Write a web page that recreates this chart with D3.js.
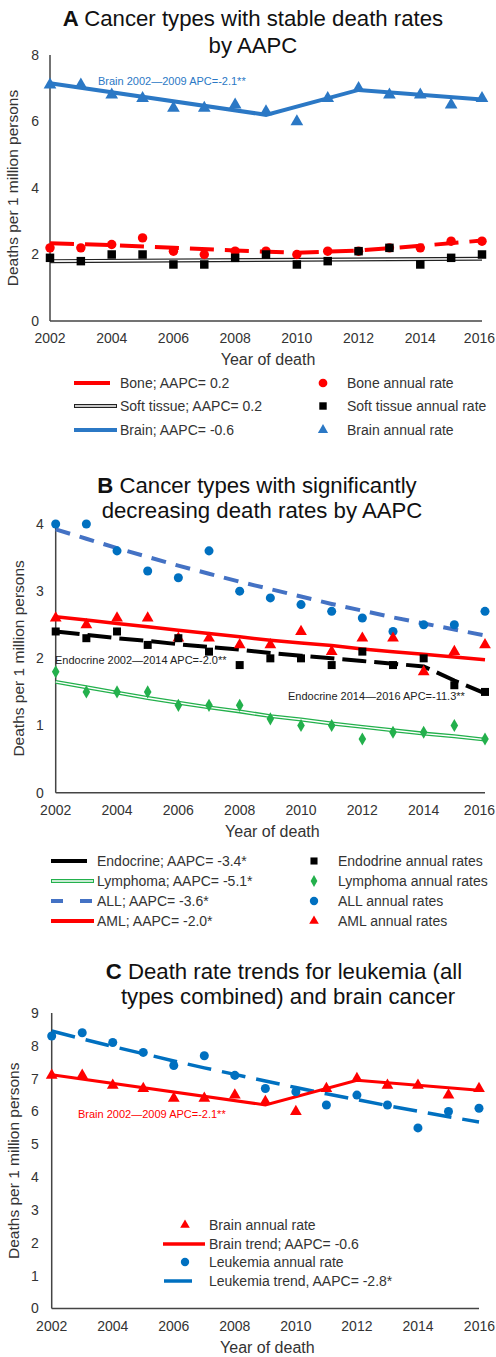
<!DOCTYPE html>
<html>
<head>
<meta charset="utf-8">
<script src="https://cdn.jsdelivr.net/npm/d3@7"></script>
<style>
  body { margin: 0; background: #fff; }
  svg { display: block; font-family: "Liberation Sans", Arial, sans-serif; }
  .tick-label { font-size: 14px; fill: #333; }
  .axis-title { font-size: 15.5px; fill: #333; }
  .x-title { font-size: 16px; }
  .legend-text { font-size: 14px; fill: #333; }
  .title { font-size: 22.2px; fill: #111; }
  .note { font-size: 11px; }
</style>
</head>
<body>
<svg id="chart" width="496" height="1357"></svg>
<script>
const years = d3.range(2002, 2017);
const xTicks = [2002, 2004, 2006, 2008, 2010, 2012, 2014, 2016];

// Panel A
const brainRates = [7.1, 7.1, 6.8, 6.7, 6.4, 6.4, 6.5, 6.3, 6.0, 6.7, 7.0, 6.8, 6.8, 6.5, 6.7];
const brainTrend = [[2002, 7.15], [2009, 6.2], [2012, 6.95], [2016, 6.66]];
const boneRates = [2.2, 2.2, 2.3, 2.5, 2.1, 2.0, 2.1, 2.1, 2.0, 2.1, 2.1, 2.2, 2.2, 2.4, 2.4];
const boneTrend = [[2002, 2.34], [2004, 2.28], [2006, 2.2], [2008, 2.12], [2010, 2.05], [2012, 2.12], [2014, 2.26], [2016, 2.42]];
const softRates = [1.9, 1.8, 2.0, 2.0, 1.7, 1.7, 1.9, 2.0, 1.7, 1.8, 2.1, 2.2, 1.7, 1.9, 2.0];
const softTrend = [[2002, 1.8], [2016, 1.87]];
const yTicksA = [0, 2, 4, 6, 8];

// Panel B
const allRates = [4.0, 4.0, 3.6, 3.3, 3.2, 3.6, 3.0, 2.9, 2.8, 2.7, 2.6, 2.4, 2.5, 2.5, 2.7];
const allTrend = [3.92, 3.78, 3.64, 3.51, 3.38, 3.26, 3.14, 3.03, 2.92, 2.81, 2.71, 2.61, 2.52, 2.43, 2.34];
const amlRates = [2.6, 2.5, 2.6, 2.6, 2.3, 2.3, 2.2, 2.2, 2.4, 2.1, 2.3, 2.3, 1.8, 2.1, 2.2];
const amlTrend = [2.62, 2.57, 2.52, 2.47, 2.42, 2.37, 2.32, 2.27, 2.23, 2.19, 2.14, 2.10, 2.06, 2.02, 1.98];
const endoRates = [2.4, 2.3, 2.4, 2.2, 2.3, 2.1, 1.9, 2.0, 2.0, 1.9, 2.1, 1.9, 2.0, 1.6, 1.5];
const endoTrend = [2.40, 2.35, 2.30, 2.26, 2.21, 2.17, 2.13, 2.08, 2.04, 2.00, 1.96, 1.92, 1.88, 1.67, 1.48];
const lymphRates = [1.8, 1.5, 1.5, 1.5, 1.3, 1.3, 1.3, 1.1, 1.0, 1.0, 0.8, 0.9, 0.9, 1.0, 0.8];
const lymphTrend = [1.65, 1.57, 1.49, 1.41, 1.34, 1.27, 1.21, 1.14, 1.09, 1.03, 0.98, 0.93, 0.88, 0.84, 0.79];
const yTicksB = [0, 1, 2, 3, 4];

// Panel C
const brainRatesC = [7.1, 7.1, 6.8, 6.7, 6.4, 6.4, 6.5, 6.3, 6.0, 6.7, 7.0, 6.8, 6.8, 6.5, 6.7];
const brainTrendC = [[2002, 7.12], [2009, 6.2], [2012, 6.95], [2016, 6.65]];
const leukRates = [8.3, 8.4, 8.1, 7.8, 7.4, 7.7, 7.1, 6.7, 6.6, 6.2, 6.5, 6.2, 5.5, 6.0, 6.1];
const leukTrend = [8.45, 8.21, 7.98, 7.76, 7.54, 7.33, 7.13, 6.93, 6.73, 6.54, 6.36, 6.18, 6.01, 5.84, 5.68];
const yTicksC = [0, 1, 2, 3, 4, 5, 6, 7, 8, 9];

const RED = "#ff0000", BLUE = "#0070c0", BRAINBLUE = "#2b78c5", ALLBLUE = "#4472c4", GREEN = "#23b04c";

const svg = d3.select("#chart");

function pairs(arr) { return arr.map((v, i) => [years[i], v]); }

function panel(cfg) {
  const x = d3.scaleLinear().domain([2002, 2016]).range([cfg.left, cfg.right]);
  const y = d3.scaleLinear().domain([0, cfg.yMax]).range([cfg.bottom, cfg.top]);
  const g = svg.append("g");

  cfg.title.forEach(t => {
    const txt = g.append("text").attr("class", "title")
      .attr("x", t.x).attr("y", t.y).attr("text-anchor", "middle");
    if (t.letter) txt.append("tspan").attr("font-weight", "bold").text(t.letter + " ");
    txt.append("tspan").text(t.text);
  });

  // axes as plain lines, no tick marks
  g.append("line").attr("x1", x(2002)).attr("x2", x(2002))
    .attr("y1", y(cfg.yMax)).attr("y2", y(0)).attr("stroke", "#444").attr("stroke-width", 1.5);
  g.append("line").attr("x1", x(2002)).attr("x2", x(2016))
    .attr("y1", y(0)).attr("y2", y(0)).attr("stroke", "#444").attr("stroke-width", 1.5);

  g.selectAll(".ytick").data(cfg.yTicks).join("text")
    .attr("class", "tick-label").attr("text-anchor", "end")
    .attr("x", x(2002) - cfg.yLabelGap).attr("y", d => y(d)).attr("dy", "0.35em")
    .text(d => d);
  g.selectAll(".xtick").data(xTicks).join("text")
    .attr("class", "tick-label")
    .attr("text-anchor", d => d === 2016 ? "end" : "middle")
    .attr("x", d => d === 2016 ? 495 : x(d)).attr("y", y(0) + 22).text(d => d);

  g.append("text").attr("class", "axis-title x-title").attr("text-anchor", "middle")
    .attr("x", (cfg.left + cfg.right) / 2 + 2).attr("y", y(0) + 44).text("Year of death");
  g.append("text").attr("class", "axis-title").attr("text-anchor", "middle")
    .attr("transform", `translate(${cfg.yTitleX},${(cfg.top + cfg.bottom) / 2}) rotate(-90)`)
    .text("Deaths per 1 million persons");

  const line = d3.line().x(d => x(d[0])).y(d => y(d[1]));
  cfg.lines.forEach(l => {
    g.append("path").datum(l.data).attr("d", line).attr("fill", "none")
      .attr("stroke", l.color).attr("stroke-width", l.width)
      .attr("stroke-dasharray", l.dash || null);
    if (l.inner) {
      g.append("path").datum(l.data).attr("d", line).attr("fill", "none")
        .attr("stroke", "#fff").attr("stroke-width", l.inner);
    }
  });

  cfg.points.forEach(p => {
    g.selectAll(null).data(pairs(p.data)).join("path")
      .attr("transform", d => `translate(${x(d[0])},${y(d[1])})`)
      .attr("d", d3.symbol().type(p.shape).size(p.size))
      .attr("fill", p.color);
  });

  (cfg.notes || []).forEach(n => {
    g.append("text").attr("class", "note").attr("x", n.x).attr("y", n.y)
      .attr("fill", n.color).text(n.text);
  });

  cfg.legend.forEach(item => {
    if (item.line) {
      const L = item.line;
      g.append("line").attr("x1", L.x1).attr("x2", L.x2).attr("y1", item.y).attr("y2", item.y)
        .attr("stroke", L.color).attr("stroke-width", L.width).attr("stroke-dasharray", L.dash || null);
      if (L.inner) {
        g.append("line").attr("x1", L.x1 + 1).attr("x2", L.x2 - 1).attr("y1", item.y).attr("y2", item.y)
          .attr("stroke", "#fff").attr("stroke-width", L.inner);
      }
    }
    if (item.marker) {
      g.append("path").attr("transform", `translate(${item.marker.x},${item.y})`)
        .attr("d", d3.symbol().type(item.marker.shape).size(item.marker.size))
        .attr("fill", item.marker.color);
    }
    g.append("text").attr("class", "legend-text").attr("x", item.tx).attr("y", item.y)
      .attr("dy", "0.35em").text(item.text);
  });
}

// ---- A ----
panel({
  left: 50, right: 482, top: 55, bottom: 321, yMax: 8, yTicks: yTicksA, yLabelGap: 11, yTitleX: 18,
  title: [{ x: 253, y: 26, letter: "A", text: "Cancer types with stable death rates" },
          { x: 253, y: 53, text: "by AAPC" }],
  lines: [
    { data: brainTrend, color: BRAINBLUE, width: 4 },
    { data: softTrend, color: "#222", width: 4, inner: 1.6 },
    { data: boneTrend, color: RED, width: 4, dash: "24,11" }
  ],
  points: [
    { data: brainRates, shape: d3.symbolTriangle, size: 70, color: BRAINBLUE },
    { data: boneRates, shape: d3.symbolCircle, size: 70, color: RED },
    { data: softRates, shape: d3.symbolSquare, size: 72, color: "#000" }
  ],
  notes: [{ x: 98, y: 85, color: BRAINBLUE, text: "Brain 2002\u20142009 APC=-2.1**" }],
  legend: [
    { y: 383, tx: 120, text: "Bone; AAPC= 0.2", line: { x1: 74, x2: 110, color: RED, width: 4 } },
    { y: 406, tx: 120, text: "Soft tissue; AAPC= 0.2", line: { x1: 74, x2: 117, color: "#222", width: 4, inner: 1.6 } },
    { y: 430, tx: 120, text: "Brain; AAPC= -0.6", line: { x1: 74, x2: 117, color: BRAINBLUE, width: 4 } },
    { y: 383, tx: 347, text: "Bone annual rate", marker: { x: 323, shape: d3.symbolCircle, size: 60, color: RED } },
    { y: 406, tx: 347, text: "Soft tissue annual rate", marker: { x: 323, shape: d3.symbolSquare, size: 55, color: "#000" } },
    { y: 430, tx: 347, text: "Brain annual rate", marker: { x: 323, shape: d3.symbolTriangle, size: 45, color: BRAINBLUE } }
  ]
});

// ---- B ----
panel({
  left: 55.7, right: 485, top: 524, bottom: 792.7, yMax: 4, yTicks: yTicksB, yLabelGap: 12, yTitleX: 24,
  title: [{ x: 257, y: 493, letter: "B", text: "Cancer types with significantly" },
          { x: 262, y: 518, text: "decreasing death rates by AAPC" }],
  lines: [
    { data: pairs(lymphTrend), color: GREEN, width: 4, inner: 1.4 },
    { data: pairs(allTrend), color: ALLBLUE, width: 4, dash: "15,10" },
    { data: pairs(amlTrend), color: RED, width: 3.5 },
    { data: pairs(endoTrend), color: "#000", width: 4, dash: "24,8" }
  ],
  points: [
    { data: allRates, shape: d3.symbolCircle, size: 64, color: BLUE },
    { data: lymphRates, shape: d3.symbolDiamond, size: 50, color: GREEN },
    { data: amlRates, shape: d3.symbolTriangle, size: 60, color: RED },
    { data: endoRates, shape: d3.symbolSquare, size: 64, color: "#000" }
  ],
  notes: [
    { x: 55, y: 664, color: "#222", text: "Endocrine 2002\u20142014 APC=-2.0**" },
    { x: 288, y: 700, color: "#222", text: "Endocrine 2014\u20142016 APC=-11.3**" }
  ],
  legend: [
    { y: 861, tx: 97, text: "Endocrine; AAPC= -3.4*", line: { x1: 51, x2: 87, color: "#000", width: 4 } },
    { y: 881, tx: 97, text: "Lymphoma; AAPC= -5.1*", line: { x1: 51, x2: 94, color: GREEN, width: 4, inner: 1.4 } },
    { y: 901, tx: 97, text: "ALL; AAPC= -3.6*", line: { x1: 51, x2: 94, color: ALLBLUE, width: 4, dash: "12,17" } },
    { y: 921, tx: 97, text: "AML; AAPC= -2.0*", line: { x1: 51, x2: 94, color: RED, width: 4 } },
    { y: 861, tx: 338, text: "Endodrine annual rates", marker: { x: 314, shape: d3.symbolSquare, size: 50, color: "#000" } },
    { y: 881, tx: 338, text: "Lymphoma annual rates", marker: { x: 314, shape: d3.symbolDiamond, size: 40, color: GREEN } },
    { y: 901, tx: 338, text: "ALL annual rates", marker: { x: 314, shape: d3.symbolCircle, size: 55, color: BLUE } },
    { y: 921, tx: 338, text: "AML annual rates", marker: { x: 314, shape: d3.symbolTriangle, size: 40, color: RED } }
  ]
});

// ---- C ----
panel({
  left: 51.7, right: 479, top: 1013, bottom: 1308.5, yMax: 9, yTicks: yTicksC, yLabelGap: 13, yTitleX: 19,
  title: [{ x: 284, y: 979, letter: "C", text: "Death rate trends for leukemia (all" },
          { x: 288, y: 1004, text: "types combined) and brain cancer" }],
  lines: [
    { data: pairs(leukTrend), color: BLUE, width: 3.5, dash: "24,11" },
    { data: brainTrendC, color: RED, width: 3 }
  ],
  points: [
    { data: leukRates, shape: d3.symbolCircle, size: 64, color: BLUE },
    { data: brainRatesC, shape: d3.symbolTriangle, size: 60, color: RED }
  ],
  notes: [{ x: 78, y: 1118, color: RED, text: "Brain 2002\u20142009 APC=-2.1**" }],
  legend: [
    { y: 1225, tx: 209, text: "Brain annual rate", marker: { x: 185, shape: d3.symbolTriangle, size: 40, color: RED } },
    { y: 1244, tx: 209, text: "Brain trend; AAPC= -0.6", line: { x1: 163, x2: 205, color: RED, width: 3.5 } },
    { y: 1262, tx: 209, text: "Leukemia annual rate", marker: { x: 185, shape: d3.symbolCircle, size: 55, color: BLUE } },
    { y: 1281, tx: 209, text: "Leukemia trend, AAPC= -2.8*", line: { x1: 164, x2: 192, color: BLUE, width: 3.5 } }
  ]
});
</script>
</body>
</html>
